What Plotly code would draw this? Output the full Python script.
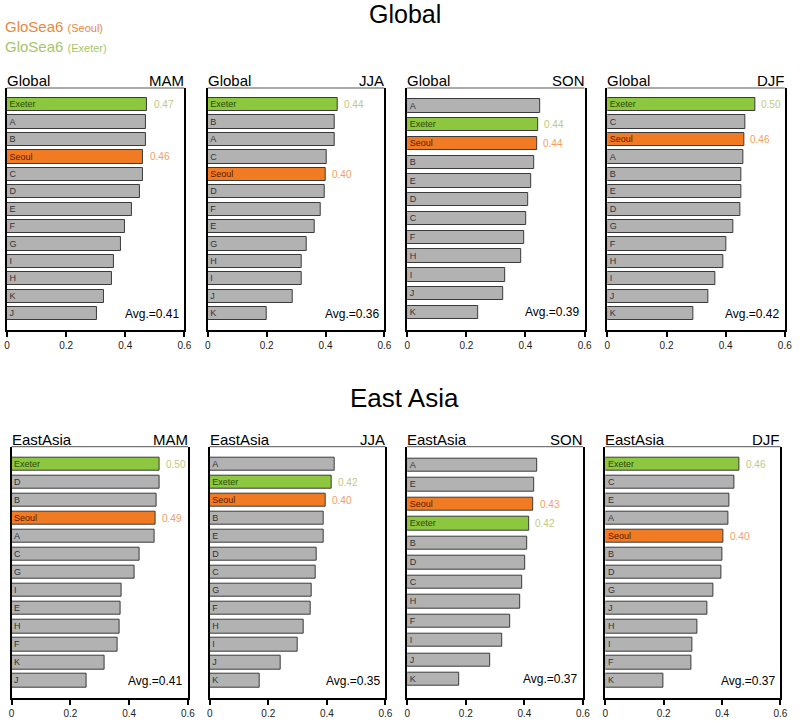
import plotly.graph_objects as go

# ---------------- data ----------------
regions = ["Global", "EastAsia"]
seasons = ["MAM", "JJA", "SON", "DJF"]

g_mam_labels = ["Exeter", "A", "B", "Seoul", "C", "D", "E", "F", "G", "I", "H", "K", "J"]
g_mam_values = [0.474, 0.471, 0.469, 0.461, 0.460, 0.449, 0.423, 0.399, 0.385, 0.363, 0.355, 0.329, 0.304]
g_jja_labels = ["Exeter", "B", "A", "C", "Seoul", "D", "F", "E", "G", "H", "I", "J", "K"]
g_jja_values = [0.440, 0.432, 0.431, 0.404, 0.401, 0.398, 0.384, 0.364, 0.335, 0.320, 0.319, 0.289, 0.201]
g_son_labels = ["A", "Exeter", "Seoul", "B", "E", "D", "C", "F", "H", "I", "J", "K"]
g_son_values = [0.449, 0.442, 0.439, 0.431, 0.419, 0.409, 0.401, 0.396, 0.386, 0.333, 0.324, 0.241]
g_djf_labels = ["Exeter", "C", "Seoul", "A", "B", "E", "D", "G", "F", "H", "I", "J", "K"]
g_djf_values = [0.499, 0.467, 0.462, 0.461, 0.454, 0.453, 0.449, 0.425, 0.401, 0.393, 0.366, 0.340, 0.290]

e_mam_labels = ["Exeter", "D", "B", "Seoul", "A", "C", "G", "I", "E", "H", "F", "K", "J"]
e_mam_values = [0.503, 0.502, 0.492, 0.491, 0.488, 0.437, 0.417, 0.373, 0.372, 0.366, 0.359, 0.316, 0.255]
e_jja_labels = ["A", "Exeter", "Seoul", "B", "E", "D", "C", "G", "F", "H", "I", "J", "K"]
e_jja_values = [0.427, 0.416, 0.396, 0.390, 0.389, 0.364, 0.363, 0.347, 0.346, 0.320, 0.301, 0.244, 0.169]
e_son_labels = ["A", "E", "Seoul", "Exeter", "B", "D", "C", "H", "F", "I", "J", "K"]
e_son_values = [0.444, 0.433, 0.431, 0.416, 0.411, 0.404, 0.391, 0.384, 0.352, 0.325, 0.283, 0.176]
e_djf_labels = ["Exeter", "C", "E", "A", "Seoul", "B", "D", "G", "J", "H", "I", "F", "K"]
e_djf_values = [0.459, 0.441, 0.424, 0.423, 0.404, 0.401, 0.396, 0.370, 0.348, 0.315, 0.298, 0.294, 0.200]

averages = [0.41, 0.36, 0.39, 0.42, 0.41, 0.35, 0.37, 0.37]
x_ticks = [0, 0.2, 0.4, 0.6]
x_tick_labels = ["0", "0.2", "0.4", "0.6"]

panels = [
    ("Global", "MAM", g_mam_labels, g_mam_values),
    ("Global", "JJA", g_jja_labels, g_jja_values),
    ("Global", "SON", g_son_labels, g_son_values),
    ("Global", "DJF", g_djf_labels, g_djf_values),
    ("EastAsia", "MAM", e_mam_labels, e_mam_values),
    ("EastAsia", "JJA", e_jja_labels, e_jja_values),
    ("EastAsia", "SON", e_son_labels, e_son_values),
    ("EastAsia", "DJF", e_djf_labels, e_djf_values),
]

# ---------------- layout geometry ----------------
W, H = 800, 723
x_px = [(4, 183.7), (207.3, 386.3), (409.3, 589), (612, 791.7),
        (8.7, 187.3), (209.3, 387.3), (409.3, 587.3), (610, 787.3)]
y_px = [(88, 330)] * 4 + [(446.7, 697.7)] * 4

GRAY = "#b2b2b2"
GREEN = "#8dc63f"
ORANGE = "#f07b23"
SANS = "Liberation Sans, Arial, Helvetica"

fig = go.Figure()
annotations = []
shapes = []
layout_axes = {}

for i, (region, season, labels, values) in enumerate(panels):
    k = i + 1
    xa = "x" if k == 1 else f"x{k}"
    ya = "y" if k == 1 else f"y{k}"
    n = len(labels)
    colors = [GREEN if l == "Exeter" else ORANGE if l == "Seoul" else GRAY for l in labels]
    tcolors = ["#2a4a0a" if l == "Exeter" else "#5a1800" if l == "Seoul" else "#333333" for l in labels]
    ypos = list(range(n))
    span_px = y_px[i][1] - y_px[i][0]
    step_px = span_px / (n + 0.9)
    bw = 13.3 / step_px
    fig.add_trace(go.Bar(
        x=values, y=ypos, orientation="h",
        marker=dict(color=colors, line=dict(color="#3a3a3a", width=1)),
        width=bw,
        text=labels, textposition="inside", insidetextanchor="start", textangle=0,
        textfont=dict(size=9, color=tcolors, family=SANS),
        constraintext="none",
        xaxis=xa, yaxis=ya, showlegend=False, hoverinfo="x+text",
    ))
    x0, x1 = x_px[i]
    y0, y1 = y_px[i]
    layout_axes["xaxis" if k == 1 else f"xaxis{k}"] = dict(
        domain=[x0 / W, x1 / W], anchor=ya, range=[0, 0.6],
        tickvals=x_ticks, ticktext=x_tick_labels, ticks="outside", ticklen=5,
        tickwidth=1.5, tickcolor="black", showline=True, linewidth=2, linecolor="black",
        showgrid=False, zeroline=False, tickfont=dict(size=10, color="#222", family=SANS),
        fixedrange=True,
    )
    layout_axes["yaxis" if k == 1 else f"yaxis{k}"] = dict(
        domain=[1 - y1 / H, 1 - y0 / H], anchor=xa, range=[n - 1 + 0.94, -0.96],
        showticklabels=False, ticks="", showgrid=False, zeroline=False,
        showline=True, mirror=True, linewidth=2, linecolor="black", fixedrange=True,
    )
    # top border (thin)
    shapes.append(dict(type="line", xref=f"{xa} domain", yref=f"{ya} domain",
                       x0=0, x1=1, y0=1, y1=1, line=dict(color="#555", width=1)))
    # panel titles
    annotations.append(dict(text=region, xref=f"{xa} domain", yref=f"{ya} domain",
                            x=0, y=1, xanchor="left", yanchor="bottom", yshift=-3, xshift=-2,
                            showarrow=False, font=dict(size=15, family=SANS, color="black")))
    annotations.append(dict(text=season, xref=f"{xa} domain", yref=f"{ya} domain",
                            x=1, y=1, xanchor="right", yanchor="bottom", yshift=-3, xshift=2,
                            showarrow=False, font=dict(size=15, family=SANS, color="black")))
    # average
    annotations.append(dict(text=f"Avg.={averages[i]:.2f}", xref=xa, yref=ya,
                            x=0.587, y=n - 1, xanchor="right", yanchor="middle",
                            showarrow=False, font=dict(size=12, family=SANS, color="black")))
    # value labels for Exeter / Seoul
    for lab, val, yy in zip(labels, values, ypos):
        if lab in ("Exeter", "Seoul"):
            annotations.append(dict(text=f"{val:.2f}", xref=xa, yref=ya,
                                    x=val + 0.015, y=yy, xanchor="left", yanchor="middle",
                                    showarrow=False,
                                    font=dict(size=10, family=SANS,
                                              color="#c2c87e" if lab == "Exeter" else "#f0a060")))

# main titles
annotations.append(dict(text="Global", xref="paper", yref="paper", x=407 / W, y=1 - 14 / H,
                        xanchor="center", yanchor="middle", showarrow=False,
                        font=dict(size=25, family=SANS, color="black")))
annotations.append(dict(text="East Asia", xref="paper", yref="paper", x=407 / W, y=1 - 398 / H,
                        xanchor="center", yanchor="middle", showarrow=False,
                        font=dict(size=26, family=SANS, color="black")))
# legend texts
annotations.append(dict(text="GloSea6 <span style='font-size:11px'>(Seoul)</span>",
                        xref="paper", yref="paper", x=0, y=1 - 27 / H,
                        xanchor="left", yanchor="middle", showarrow=False,
                        font=dict(size=15, family=SANS, color="#e8883c")))
annotations.append(dict(text="GloSea6 <span style='font-size:11px'>(Exeter)</span>",
                        xref="paper", yref="paper", x=0, y=1 - 47 / H,
                        xanchor="left", yanchor="middle", showarrow=False,
                        font=dict(size=15, family=SANS, color="#a8c46a")))

fig.update_layout(
    width=W, height=H, margin=dict(l=0, r=0, t=0, b=0),
    paper_bgcolor="white", plot_bgcolor="white",
    annotations=annotations, shapes=shapes, bargap=0,
    **layout_axes,
)

fig.write_html("out.html", config={"displayModeBar": False},
               post_script="document.body.style.margin='0';document.body.style.overflow='hidden';")
